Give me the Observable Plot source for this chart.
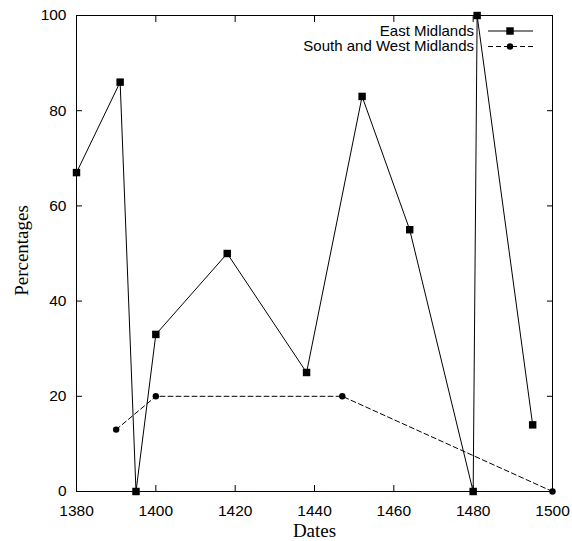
<!DOCTYPE html>
<html>
<head>
<meta charset="utf-8">
<script src="https://cdn.jsdelivr.net/npm/d3@7"></script>
<script src="https://cdn.jsdelivr.net/npm/@observablehq/plot@0.6"></script>
<style>
  html, body { margin: 0; padding: 0; background: #fff; }
</style>
</head>
<body>
<div id="chart"></div>
<script>
// ---- data ----
const eastYears  = [1380, 1391, 1395, 1400, 1418, 1438, 1452, 1464, 1480, 1481, 1495];
const eastValues = [67, 86, 0, 33, 50, 25, 83, 55, 0, 100, 14];
const swYears    = [1390, 1400, 1447, 1500];
const swValues   = [13, 20, 20, 0];
const seriesNames = ["East Midlands", "South and West Midlands"];
const xTicks = [1380, 1400, 1420, 1440, 1460, 1480, 1500];
const yTicks = [0, 20, 40, 60, 80, 100];
const xTitle = "Dates";
const yTitle = "Percentages";

const east = eastYears.map((x, i) => ({x, y: eastValues[i]}));
const sw = swYears.map((x, i) => ({x, y: swValues[i]}));

const SANS = "Liberation Sans, Arial, Helvetica, sans-serif";
const SERIF = "Liberation Serif, Times New Roman, serif";
const SQ_R = 4.2, CI_R = 3.2;
const DASH = "5,3";

function legend(index, scales, values, dimensions) {
  const {width, marginRight, marginTop} = dimensions;
  const right = width - marginRight;
  const g = d3.create("svg:g");
  seriesNames.forEach((name, i) => {
    const y = marginTop + 16 + i * 15.5;
    g.append("text")
      .attr("x", right - 78).attr("y", y).attr("dy", "0.32em")
      .attr("text-anchor", "end")
      .attr("font-family", SANS).attr("font-size", "15px")
      .attr("fill", "black")
      .text(name);
    g.append("line")
      .attr("x1", right - 64).attr("x2", right - 19)
      .attr("y1", y).attr("y2", y)
      .attr("stroke", "black").attr("stroke-width", 1)
      .attr("stroke-dasharray", i === 0 ? null : DASH);
    const r = i === 0 ? SQ_R : CI_R;
    g.append("path")
      .attr("transform", `translate(${right - 42},${y})`)
      .attr("d", d3.symbol(i === 0 ? d3.symbolSquare : d3.symbolCircle, r * r * Math.PI)())
      .attr("fill", "black");
  });
  return g.node();
}

const chart = Plot.plot({
  width: 572,
  height: 541,
  marginLeft: 76,
  marginRight: 20,
  marginTop: 15,
  marginBottom: 50,
  style: {fontFamily: SANS, fontSize: "15.5px", color: "black", background: "white"},
  x: {domain: [1380, 1500]},
  y: {domain: [0, 100]},
  marks: [
    Plot.frame({stroke: "black", strokeWidth: 1}),
    Plot.axisX({anchor: "bottom", ticks: xTicks, tickSize: -6, tickPadding: 19, tickFormat: d => String(d), label: null}),
    Plot.axisX({anchor: "top", ticks: xTicks, tickSize: -6, fill: "none", label: null}),
    Plot.axisY({anchor: "left", ticks: yTicks, tickSize: -6, tickPadding: 16, tickFormat: d => String(d), label: null}),
    Plot.axisY({anchor: "right", ticks: yTicks, tickSize: -6, fill: "none", label: null}),
    Plot.text([xTitle], {frameAnchor: "bottom", text: d => d, dy: 39, textAnchor: "middle", lineAnchor: "middle", fontFamily: SERIF, fontSize: 19, fill: "black"}),
    Plot.text([yTitle], {frameAnchor: "left", text: d => d, dx: -55, dy: -3, rotate: -90, textAnchor: "middle", lineAnchor: "middle", fontFamily: SERIF, fontSize: 19, fill: "black"}),
    Plot.line(sw, {x: "x", y: "y", stroke: "black", strokeWidth: 1, strokeDasharray: DASH}),
    Plot.dot(sw, {x: "x", y: "y", r: CI_R, symbol: "circle", fill: "black", stroke: "none"}),
    Plot.line(east, {x: "x", y: "y", stroke: "black", strokeWidth: 1}),
    Plot.dot(east, {x: "x", y: "y", r: SQ_R, symbol: "square", fill: "black", stroke: "none"}),
    legend
  ]
});
document.getElementById("chart").appendChild(chart);
</script>
</body>
</html>
